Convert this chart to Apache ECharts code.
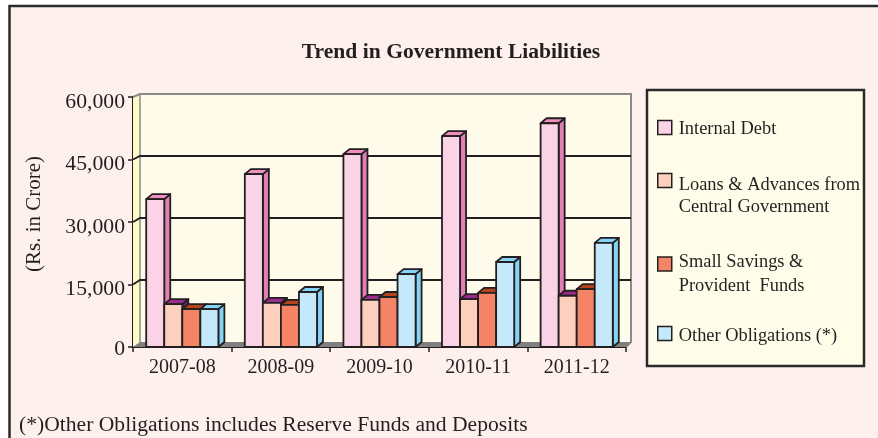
<!DOCTYPE html>
<html><head><meta charset="utf-8">
<style>html,body{margin:0;padding:0;background:#fff}#c{width:878px;height:438px}</style>
<script src="https://cdn.jsdelivr.net/npm/echarts@6/dist/echarts.min.js"></script>
</head><body><div id="c"></div>
<script>
const categories = ['2007-08','2008-09','2009-10','2010-11','2011-12'];
const yTicks = [0,15000,30000,45000,60000];
const internalDebt = [35500,41500,46300,50600,53700];
const loansAdvances = [10300,10600,11300,11500,12300];
const smallSavings = [9100,10100,12000,13000,13900];
const otherObligations = [9100,13200,17500,20400,25000];
const seriesNames = ['Internal Debt','Loans & Advances from\nCentral Government','Small Savings &\nProvident  Funds','Other Obligations (*)'];
const seriesValues = [internalDebt,loansAdvances,smallSavings,otherObligations];
const faceColors = [
  {front:'#FBD3E7',top:'#F08EBE',side:'#E27FB4'},
  {front:'#FDD0BD',top:'#9A2C8E',side:'#6E2270'},
  {front:'#F58466',top:'#B5431C',side:'#8A3418'},
  {front:'#C4E9FA',top:'#84D4F7',side:'#84D4F7'}
];
const INK='#231F20', SERIF='"Liberation Serif","Times New Roman",serif';
const DX=6, DY=-5, WX=7, WBOT=-5, WTOP=-3;
const BAR_FRAC=0.183;

function barRender(idx){
  return function(params,api){
    const base=api.coord([api.value(0),0]);
    const top=api.coord([api.value(0),api.value(1)]);
    const w=api.size([1,0])[0]*BAR_FRAC;
    const x0=base[0]+(idx-2)*w, x1=x0+w, y0=base[1], y1=top[1];
    const c=faceColors[idx];
    const st=f=>({fill:f,stroke:INK,lineWidth:1.8,lineJoin:'round'});
    return {type:'group',children:[
      {type:'polygon',shape:{points:[[x1,y1],[x1+DX,y1+DY],[x1+DX,y0+DY],[x1,y0]]},style:st(c.side)},
      {type:'polygon',shape:{points:[[x0,y1],[x0+DX,y1+DY],[x1+DX,y1+DY],[x1,y1]]},style:st(c.top)},
      {type:'rect',shape:{x:x0,y:y1,width:w,height:y0-y1},style:st(c.front)}
    ]};
  };
}
function wallRender(params,api){
  const cs=params.coordSys;
  const l=cs.x,r=cs.x+cs.width,b=cs.y+cs.height,t=cs.y;
  const v=api.value(0);
  const y=api.coord([0,v])[1];
  const wy=WBOT+(WTOP-WBOT)*v/yTicks[yTicks.length-1];
  const R=r+WX-2;
  const kids=[];
  if(params.dataIndex===0){
    kids.push({type:'polygon',shape:{points:[[l+WX,t+WTOP],[R,t+WTOP],[R,b+WBOT],[l+WX,b+WBOT]]},style:{fill:'#FFFBEA'}});
    kids.push({type:'polygon',shape:{points:[[l,t],[l+WX,t+WTOP],[l+WX,b+WBOT],[l,b]]},style:{fill:'#FFFBC8'}});
    kids.push({type:'polygon',shape:{points:[[l,b],[l+WX,b+WBOT],[R,b+WBOT],[r,b]]},style:{fill:'#7F7F7F'}});
    kids.push({type:'polyline',shape:{points:[[l,t],[l+WX,t+WTOP],[R,t+WTOP],[R,b+WBOT],[r,b]]},style:{fill:'none',stroke:'#8A8A8A',lineWidth:2}});
    kids.push({type:'line',shape:{x1:l+WX,y1:t+WTOP,x2:l+WX,y2:b+WBOT},style:{stroke:'#8A8A8A',lineWidth:1.5}});
  } else if(v<yTicks[yTicks.length-1]){
    kids.push({type:'polyline',shape:{points:[[l,y],[l+WX,y+wy],[R,y+wy]]},style:{fill:'none',stroke:INK,lineWidth:1.8}});
  }
  return {type:'group',children:kids};
}
const iconCentres=[127,180,263.5,333], blankH=[4,32,20,6], lineH=[22,22,24,22];
const chart=echarts.init(document.getElementById('c'),null,{renderer:'canvas'});
const lblStyle={fontFamily:SERIF,fontSize:21.7,color:INK};
chart.setOption({
  animation:false,
  backgroundColor:'#ffffff',
  graphic:{elements:[
    {type:'rect',z:-10,shape:{x:9.5,y:6,width:880,height:450},style:{fill:'#FEF0EC',stroke:'#2B2A2B',lineWidth:2.5}},
    {type:'rect',z:-9,shape:{x:647,y:90,width:217,height:276},style:{fill:'#FFFDE9',stroke:'#2B2A2B',lineWidth:2.5}}
  ]},
  title:[
    {text:'Trend in Government Liabilities',left:451,top:41,padding:0,textAlign:'center',textStyle:{fontFamily:SERIF,fontSize:21.6,fontWeight:'bold',color:INK}},
    {text:'(*)Other Obligations includes Reserve Funds and Deposits',left:19,top:414,padding:0,textStyle:{fontFamily:SERIF,fontSize:21.6,fontWeight:'normal',color:INK}}
  ],
  grid:{left:133,top:97,right:252,bottom:91,containLabel:false},
  xAxis:{type:'category',data:categories,
    axisLine:{lineStyle:{color:INK,width:2}},
    axisTick:{show:true,length:5,lineStyle:{color:INK,width:1.5}},
    axisLabel:{fontFamily:SERIF,fontSize:20,color:INK,margin:11}},
  yAxis:{type:'value',min:yTicks[0],max:yTicks[4],interval:15000,
    name:'(Rs. in Crore)',nameLocation:'middle',nameGap:88,nameRotate:90,
    nameTextStyle:{fontFamily:SERIF,fontSize:21,color:INK,padding:[0,0,0,16]},
    axisLine:{show:true,lineStyle:{color:INK,width:2}},
    axisTick:{show:true,length:5,lineStyle:{color:INK,width:1.5}},
    axisLabel:{margin:8,color:INK,
      formatter:v=>v===0?'{z|0}':'{n|'+v.toLocaleString('en-US')+'}',
      rich:{n:Object.assign({padding:[10,0,0,0]},lblStyle),z:Object.assign({padding:[4,0,0,0]},lblStyle)}},
    splitLine:{show:false}},
  legend:seriesNames.map((n,i)=>{
    const lines=n.split('\n').length;
    return {
      data:[n],left:657,top:iconCentres[i]-lines*lineH[i]/2,orient:'vertical',icon:'rect',itemWidth:14,itemHeight:14,itemGap:0,padding:0,
      selectedMode:false,
      itemStyle:{borderColor:INK,borderWidth:1.5},
      formatter:name=>'{b| }\n'+name.split('\n').map(s=>'{a|'+s+'}').join('\n'),
      textStyle:{fontFamily:SERIF,fontSize:18.4,color:INK,
        rich:{a:{fontFamily:SERIF,fontSize:18.4,lineHeight:lineH[i],color:INK,padding:[0,0,0,2]},b:{fontSize:1,lineHeight:blankH[i]}}}
    };
  }),
  series:[
    {type:'custom',name:'wall',silent:true,clip:false,coordinateSystem:'cartesian2d',encode:{y:0},data:yTicks.map(v=>[v]),renderItem:wallRender,z:1},
    ...seriesNames.map((n,i)=>({
      type:'custom',name:n,coordinateSystem:'cartesian2d',clip:false,z:2+i,
      encode:{x:0,y:1},
      itemStyle:{color:faceColors[i].front,borderColor:INK,borderWidth:1.5},
      data:categories.map((c,k)=>[k,seriesValues[i][k]]),
      renderItem:barRender(i)
    }))
  ]
});
</script></body></html>
